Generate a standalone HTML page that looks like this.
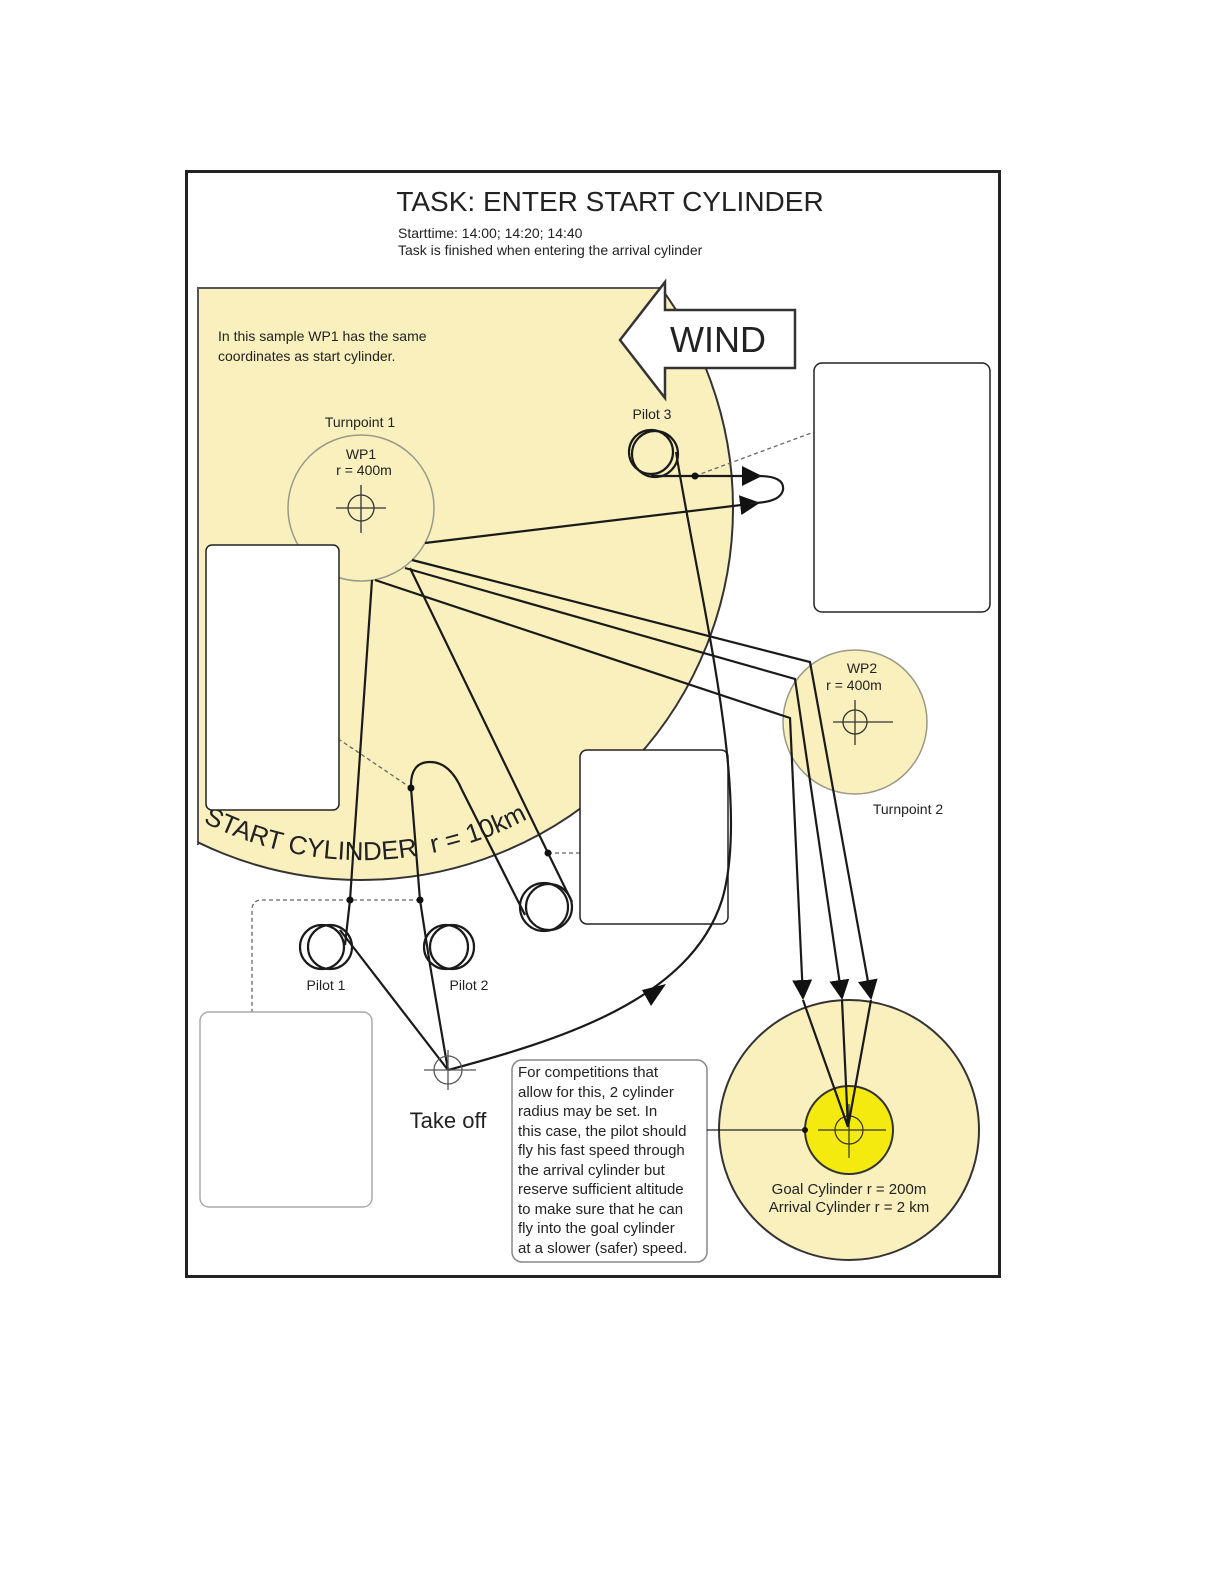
<!DOCTYPE html>
<html><head><meta charset="utf-8"><style>
html,body{margin:0;padding:0;background:#fff;}
svg{display:block;font-family:"Liberation Sans",Arial,sans-serif;}
</style></head><body>
<svg width="1224" height="1584" viewBox="0 0 1224 1584" xmlns="http://www.w3.org/2000/svg">
<defs>
<clipPath id="sc"><rect x="198" y="288" width="700" height="700"/></clipPath>
<marker id="ah" viewBox="0 0 10 10" refX="9" refY="5" markerWidth="20" markerHeight="20" markerUnits="userSpaceOnUse" orient="auto"><path d="M0,0 L10,5 L0,10 z" fill="#111"/></marker>
</defs>
<rect x="0" y="0" width="1224" height="1584" fill="#fff"/>
<rect x="186.5" y="171.5" width="813" height="1105" fill="#fff" stroke="#222" stroke-width="3"/>
<text x="610" y="211" font-size="28" text-anchor="middle" fill="#222">TASK: ENTER START CYLINDER</text>
<text x="398" y="238" font-size="14" fill="#222">Starttime: 14:00; 14:20; 14:40</text>
<text x="398" y="255" font-size="14" fill="#222">Task is finished when entering the arrival cylinder</text>

<circle cx="361" cy="508" r="372" fill="#f9f0be" clip-path="url(#sc)"/>
<path d="M198,845 L198,288 L661,288" fill="none" stroke="#555" stroke-width="2"/>
<circle cx="361" cy="508" r="372" fill="none" stroke="#333" stroke-width="2" clip-path="url(#sc)"/>
<path id="arcp" d="M203,822 A352,352 0 0 0 540,812" fill="none"/>
<text font-size="26" fill="#222"><textPath href="#arcp">START CYLINDER&#160;&#160;r = 10km</textPath></text>

<text x="218" y="341" font-size="14" fill="#222">In this sample WP1 has the same</text>
<text x="218" y="361" font-size="14" fill="#222">coordinates as start cylinder.</text>

<polygon points="620,340 665,282 665,310 795,310 795,368 665,368 665,398" fill="#fff" stroke="#333" stroke-width="2.5"/>
<text x="718" y="352" font-size="36" fill="#222" text-anchor="middle">WIND</text>

<text x="360" y="427" font-size="14" text-anchor="middle" fill="#222">Turnpoint 1</text>
<circle cx="361" cy="508" r="73" fill="#f9f0be" stroke="#998" stroke-width="1.5"/>
<text x="361" y="459" font-size="14" text-anchor="middle" fill="#222">WP1</text>
<text x="364" y="475" font-size="14" text-anchor="middle" fill="#222">r = 400m</text>
<circle cx="361" cy="508" r="13" fill="none" stroke="#333" stroke-width="1.3"/>
<path d="M336,508 H386 M361,485 V533" stroke="#333" stroke-width="1.3"/>

<circle cx="855" cy="722" r="72" fill="#f9f0be" stroke="#998" stroke-width="1.5"/>
<text x="862" y="673" font-size="14" text-anchor="middle" fill="#222">WP2</text>
<text x="854" y="690" font-size="14" text-anchor="middle" fill="#222">r = 400m</text>
<circle cx="855" cy="722" r="12" fill="none" stroke="#333" stroke-width="1.3"/>
<path d="M833,722 H893 M855,700 V745" stroke="#333" stroke-width="1.3"/>
<text x="908" y="814" font-size="14" text-anchor="middle" fill="#222">Turnpoint 2</text>

<circle cx="849" cy="1130" r="130" fill="#f9f0be" stroke="#333" stroke-width="2"/>
<circle cx="849" cy="1130" r="44" fill="#f4ea10" stroke="#333" stroke-width="2"/>
<circle cx="849" cy="1130" r="14" fill="none" stroke="#333" stroke-width="1.2"/>
<path d="M818,1130 H886 M849,1104 V1158" stroke="#333" stroke-width="1.2"/>
<text x="849" y="1194" font-size="15" text-anchor="middle" fill="#222">Goal Cylinder  r = 200m</text>
<text x="849" y="1212" font-size="15" text-anchor="middle" fill="#222">Arrival Cylinder  r = 2 km</text>

<g stroke="#666" stroke-width="1.3" stroke-dasharray="4,3" fill="none">
<path d="M695,476 L814,432"/>
<path d="M411,788 L340,740"/>
<path d="M548,853 L580,853"/>
<path d="M420,900 H262 Q252,900 252,910 V1012"/>
</g>

<g fill="#fff" stroke="#222" stroke-width="1.5">
<rect x="814" y="363" width="176" height="249" rx="8"/>
<rect x="206" y="545" width="133" height="265" rx="6"/>
<rect x="580" y="750" width="148" height="174" rx="7"/>
</g>
<rect x="200" y="1012" width="172" height="195" rx="9" fill="#fff" stroke="#aaa" stroke-width="1.5"/>
<rect x="512" y="1060" width="195" height="202" rx="10" fill="#fff" stroke="#888" stroke-width="1.5"/>
<g font-size="15" fill="#222">
<text x="518" y="1077">For competitions that</text>
<text x="518" y="1097">allow for this, 2 cylinder</text>
<text x="518" y="1116">radius may be set. In</text>
<text x="518" y="1136">this case, the pilot should</text>
<text x="518" y="1155">fly his fast speed through</text>
<text x="518" y="1175">the arrival cylinder but</text>
<text x="518" y="1194">reserve sufficient altitude</text>
<text x="518" y="1214">to make sure that he can</text>
<text x="518" y="1233">fly into the goal cylinder</text>
<text x="518" y="1253">at a slower (safer) speed.</text>
</g>
<path d="M707,1130 H805" stroke="#222" stroke-width="1.3"/>
<circle cx="805" cy="1130" r="3" fill="#111"/>

<g stroke="#1a1a1a" stroke-width="2.2" fill="none">
<path d="M425,543 L758,503" marker-end="url(#ah)"/>
<circle cx="651" cy="452" r="22"/>
<circle cx="655" cy="454" r="23"/>
<path d="M651,476 L760,476" marker-end="url(#ah)"/>
<path d="M758,476 Q785,476 783,490 Q780,503 750,503"/>
<path d="M448,1070 C560,1040 690,1000 722,900 C752,800 700,600 676,452"/>
<path d="M412,560 L810,662 L871,998" marker-end="url(#ah)"/>
<path d="M405,568 L795,679 L842,998" marker-end="url(#ah)"/>
<path d="M375,580 L790,718 L803,998" marker-end="url(#ah)"/>
<path d="M803,1000 L848,1127 M842,1000 L848,1127 M871,1000 L848,1127"/>
<path d="M372,580 L350,900 L345,945"/>
<circle cx="322" cy="947" r="22"/>
<circle cx="330" cy="947" r="22"/>
<path d="M340,930 L448,1070"/>
<circle cx="446" cy="947" r="22"/>
<circle cx="452" cy="947" r="22"/>
<path d="M448,1070 L430,965 L420,900 L411,788 Q410,762 430,762 Q450,762 462,790 L525,915"/>
<circle cx="544" cy="907" r="24"/>
<circle cx="549" cy="907" r="23"/>
<path d="M410,568 L548,853 L572,902"/>
</g>
<g fill="#111">
<circle cx="695" cy="476" r="3.5"/>
<circle cx="411" cy="788" r="3.5"/>
<circle cx="548" cy="853" r="3.5"/>
<circle cx="350" cy="900" r="3.5"/>
<circle cx="420" cy="900" r="3.5"/>
</g>
<polygon points="666,984 642,990 651,1006" fill="#111"/>
<text x="652" y="419" font-size="14" text-anchor="middle" fill="#222">Pilot 3</text>
<text x="326" y="990" font-size="14" text-anchor="middle" fill="#222">Pilot 1</text>
<text x="469" y="990" font-size="14" text-anchor="middle" fill="#222">Pilot 2</text>

<circle cx="448" cy="1070" r="14" fill="none" stroke="#555" stroke-width="1.3"/>
<path d="M424,1070 H476 M448,1050 V1090" stroke="#555" stroke-width="1.3"/>
<text x="448" y="1128" font-size="22" text-anchor="middle" fill="#222">Take off</text>
</svg>
</body></html>
